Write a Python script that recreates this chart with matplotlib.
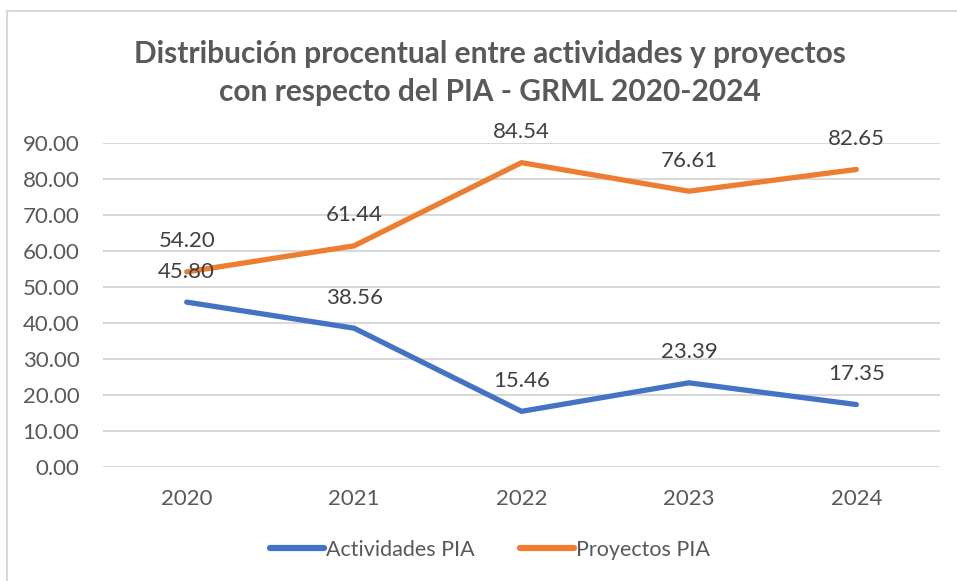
import matplotlib
matplotlib.use("Agg")
import matplotlib.pyplot as plt
from matplotlib.lines import Line2D

# data
years = ["2020", "2021", "2022", "2023", "2024"]
actividades = [45.80, 38.56, 15.46, 23.39, 17.35]
proyectos = [54.20, 61.44, 84.54, 76.61, 82.65]
yticks = [0, 10, 20, 30, 40, 50, 60, 70, 80, 90]

plt.rcParams['font.family'] = ['Lato', 'DejaVu Sans']

W, H = 957, 581
fig = plt.figure(figsize=(W / 100, H / 100), dpi=100)

# outer chart frame (top and left edges visible)
fig.add_artist(Line2D([7 / W, 7 / W], [0, 1 - 11 / H], transform=fig.transFigure,
                      color='#d9d9d9', linewidth=1.5))
fig.add_artist(Line2D([7 / W, 1], [1 - 11 / H, 1 - 11 / H], transform=fig.transFigure,
                      color='#d9d9d9', linewidth=1.5))

ax = fig.add_axes([103 / W, 1 - 467 / H, (940 - 103) / W, (467 - 143) / H])

x = list(range(len(years)))
blue = '#4472C4'
orange = '#ED7D31'
ax.plot(x, actividades, color=blue, linewidth=3.8, solid_capstyle='round',
        label='Actividades PIA', zorder=3)
ax.plot(x, proyectos, color=orange, linewidth=3.8, solid_capstyle='round',
        label='Proyectos PIA', zorder=3)

for xi, v in zip(x, actividades):
    ax.annotate(f"{v:.2f}", (xi, v), xytext=(0, 22), textcoords='offset points',
                ha='center', va='center', fontsize=16, color='#404040',
                annotation_clip=False, zorder=4)
for xi, v in zip(x, proyectos):
    ax.annotate(f"{v:.2f}", (xi, v), xytext=(0, 22), textcoords='offset points',
                ha='center', va='center', fontsize=16, color='#404040',
                annotation_clip=False, zorder=4)

ax.set_xlim(-0.5, len(years) - 0.5)
ax.set_ylim(0, 90)
ax.set_yticks(yticks)
ax.set_yticklabels([f"{t:.2f}" for t in yticks])
ax.set_xticks(x)
ax.set_xticklabels(years)
ax.tick_params(axis='both', length=0, labelsize=16, labelcolor='#595959')
ax.tick_params(axis='y', pad=17)
ax.tick_params(axis='x', pad=16)
ax.grid(axis='y', color='#d9d9d9', linewidth=1.5)
ax.set_axisbelow(True)
for s in ax.spines.values():
    s.set_visible(False)

fig.text(490 / W, 1 - 73 / H,
         "Distribución procentual entre actividades y proyectos\ncon respecto del PIA - GRML 2020-2024",
         ha='center', va='center', fontsize=21.5, fontweight='bold', color='#595959',
         linespacing=1.4)

handles = [Line2D([], [], color=blue, linewidth=4.5, solid_capstyle='round'),
           Line2D([], [], color=orange, linewidth=4.5, solid_capstyle='round')]
fig.legend(handles, ['Actividades PIA', 'Proyectos PIA'], loc='center',
           bbox_to_anchor=(490 / W, 1 - 550 / H), ncol=2, frameon=False,
           fontsize=15.5, labelcolor='#595959', handlelength=2.5, handletextpad=0.1,
           columnspacing=2.1)

fig.savefig("out.png", dpi=100)
